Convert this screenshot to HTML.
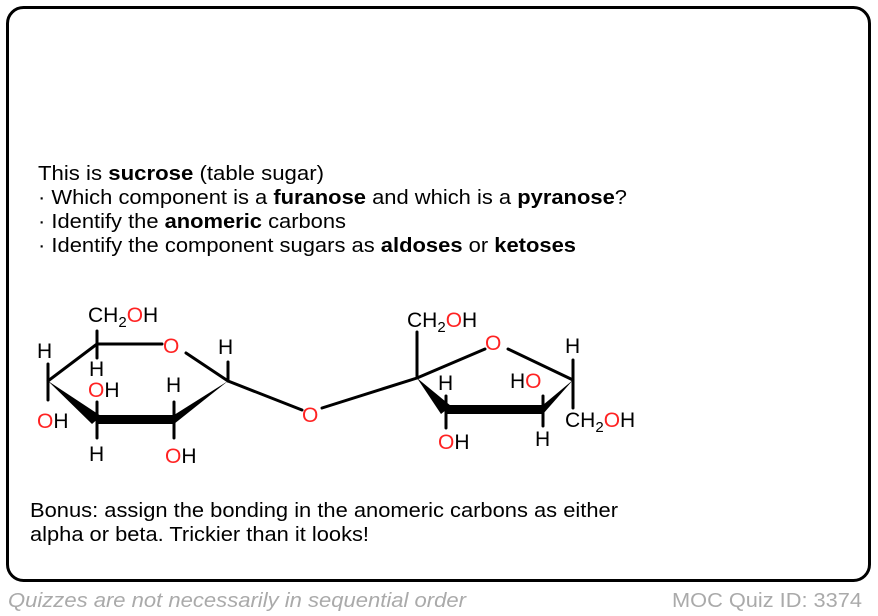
<!DOCTYPE html>
<html><head><meta charset="utf-8"><style>
html,body{margin:0;padding:0;background:#fff;}
svg{display:block;}
text{font-family:"Liberation Sans",Arial,sans-serif;}
</style></head><body>
<svg width="878" height="616" viewBox="0 0 878 616" xmlns="http://www.w3.org/2000/svg">
<rect x="7.5" y="7.5" width="862" height="573" rx="16" ry="16" fill="#fff" stroke="#000" stroke-width="3"/>
<g font-size="20" fill="#000">
<text x="38" y="180" textLength="286" lengthAdjust="spacingAndGlyphs">This is <tspan font-weight="bold">sucrose</tspan> (table sugar)</text>
<text x="38" y="204" textLength="589" lengthAdjust="spacingAndGlyphs">· Which component is a <tspan font-weight="bold">furanose</tspan> and which is a <tspan font-weight="bold">pyranose</tspan>?</text>
<text x="38" y="228" textLength="308" lengthAdjust="spacingAndGlyphs">· Identify the <tspan font-weight="bold">anomeric</tspan> carbons</text>
<text x="38" y="252" textLength="538" lengthAdjust="spacingAndGlyphs">· Identify the component sugars as <tspan font-weight="bold">aldoses</tspan> or <tspan font-weight="bold">ketoses</tspan></text>
<text x="30" y="517" textLength="588" lengthAdjust="spacingAndGlyphs">Bonus: assign the bonding in the anomeric carbons as either</text>
<text x="30" y="541" textLength="339" lengthAdjust="spacingAndGlyphs">alpha or beta. Trickier than it looks!</text>
</g>
<text x="8" y="607" font-size="20" font-style="italic" fill="#aaa" textLength="458" lengthAdjust="spacingAndGlyphs">Quizzes are not necessarily in sequential order</text>
<text x="672" y="607" font-size="20" fill="#aaa" textLength="190" lengthAdjust="spacingAndGlyphs">MOC Quiz ID: 3374</text>

<g stroke="#000" stroke-width="3" fill="none" stroke-linecap="round">
<line x1="48" y1="381" x2="97" y2="344"/>
<line x1="97" y1="344" x2="162" y2="344"/>
<line x1="186" y1="353" x2="228" y2="381"/>
<line x1="228" y1="381" x2="302" y2="410"/>
<line x1="97" y1="331" x2="97" y2="358"/>
<line x1="48" y1="364" x2="48" y2="400"/>
<line x1="97" y1="402" x2="97" y2="438"/>
<line x1="174" y1="402" x2="174" y2="438"/>
<line x1="228" y1="362" x2="228" y2="381"/>
<line x1="322" y1="408" x2="417" y2="378"/>
<line x1="417" y1="378" x2="485" y2="349"/>
<line x1="508" y1="349" x2="573" y2="380"/>
<line x1="417" y1="332" x2="417" y2="378"/>
<line x1="446" y1="396" x2="446" y2="428"/>
<line x1="543" y1="396" x2="543" y2="426"/>
<line x1="573" y1="360" x2="573" y2="408"/>
</g>
<g fill="#000">
<polygon points="48,381 92,424 101,416"/>
<rect x="97" y="415" width="77" height="9"/>
<polygon points="174,415 174,424 228,381"/>
<polygon points="417,378 441,414 451,406"/>
<rect x="446" y="405" width="97" height="9"/>
<polygon points="543,405 543,414 573,380"/>
</g>
<g font-size="21">
<text x="88" y="322" fill="#000">CH<tspan font-size="15" dy="5">2</tspan><tspan dy="-5" fill="#f22">O</tspan>H</text>
<text x="163" y="353" fill="#f22">O</text>
<text x="37" y="358" fill="#000">H</text>
<text x="89" y="376" fill="#000">H</text>
<text x="88" y="397" fill="#f22">O<tspan fill="#000">H</tspan></text>
<text x="166" y="392" fill="#000">H</text>
<text x="218" y="354" fill="#000">H</text>
<text x="37" y="428" fill="#f22">O<tspan fill="#000">H</tspan></text>
<text x="89" y="461" fill="#000">H</text>
<text x="165" y="463" fill="#f22">O<tspan fill="#000">H</tspan></text>
<text x="302" y="422" fill="#f22">O</text>
<text x="407" y="327" fill="#000">CH<tspan font-size="15" dy="5">2</tspan><tspan dy="-5" fill="#f22">O</tspan>H</text>
<text x="485" y="350" fill="#f22">O</text>
<text x="438" y="390" fill="#000">H</text>
<text x="510" y="388" fill="#000">H<tspan fill="#f22">O</tspan></text>
<text x="565" y="353" fill="#000">H</text>
<text x="438" y="449" fill="#f22">O<tspan fill="#000">H</tspan></text>
<text x="535" y="446" fill="#000">H</text>
<text x="565" y="427" fill="#000">CH<tspan font-size="15" dy="5">2</tspan><tspan dy="-5" fill="#f22">O</tspan>H</text>
</g>
</svg>
</body></html>
